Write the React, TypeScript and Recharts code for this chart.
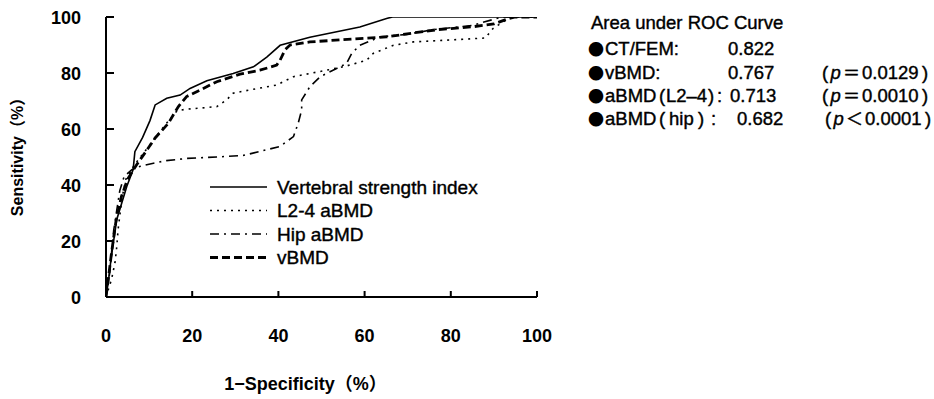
import React from "react";
import { LineChart, Line, XAxis, YAxis, Legend } from "recharts";

const FONT = "'Liberation Sans', Arial, 'Noto Sans CJK SC', sans-serif";
const CJK = "'Noto Sans CJK JP', 'Noto Sans CJK SC', sans-serif";
const TICKS = [0, 20, 40, 60, 80, 100];

// 1-specificity (%) / sensitivity (%)
const vsiX = [0, 0.5, 1.2, 2.5, 4.8, 6.3, 6.7, 8.5, 10.2, 11.4, 14.1, 17.2, 19.5, 23.4, 29.5, 34.2, 37.3, 40.4, 47.3, 58.9, 65.1, 66.5, 100];
const vsiY = [0, 5, 14, 27.7, 39.4, 45.5, 51.9, 57, 63, 68.6, 71, 72.1, 74.5, 77.2, 79.8, 82.2, 85.7, 89.9, 92.8, 96.4, 99.5, 100, 100];

const l24X = [0, 1.3, 2.1, 2.5, 2.8, 3.2, 3.8, 4.6, 6.5, 9, 11.5, 14, 16.5, 18.3, 25.7, 28, 29.5, 34.2, 39.6, 43.5, 51.2, 55.8, 60.5, 62, 66.7, 71.3, 80, 88, 89.8, 93.3, 94, 100];
const l24Y = [0, 6.4, 12.4, 18, 24, 29, 36, 42, 47, 52, 57, 62, 66.5, 67, 68, 70.4, 72.8, 74.2, 75.7, 78.7, 81, 82.5, 84.6, 87, 89.9, 91.1, 91.8, 92.5, 95.9, 99.4, 100, 100];

const hipX = [0, 0.8, 1.3, 1.8, 2.5, 3.2, 4.2, 6, 8, 11, 14, 18.8, 25.7, 32, 37.3, 40.4, 43.5, 44.6, 45.4, 45.4, 47.3, 49.7, 53.5, 55.8, 57, 58.9, 63.6, 69.8, 76, 85, 90, 92, 100];
const hipY = [0, 8, 16, 24, 31, 38, 43, 45.5, 46.7, 47.8, 48.7, 49.5, 50, 50.6, 52.6, 53.8, 57.3, 62.1, 66.8, 70.4, 75.1, 78.7, 81.6, 83.4, 87, 89.9, 92.9, 93.8, 95.5, 97, 99.2, 100, 100];

const vbmdX = [0, 0.5, 1.3, 2.3, 3.6, 5, 7, 9.5, 11.4, 14.5, 15.6, 16.8, 18.7, 21.8, 25.7, 31.1, 35.7, 39.6, 40.4, 41.5, 42.7, 47.3, 55, 65.1, 71.3, 77, 85, 90, 93.5, 95, 100];
const vbmdY = [0, 6, 16, 27, 36, 42, 47, 52.5, 56.8, 62.1, 65, 68, 71.6, 73.9, 76.9, 79.6, 81, 82.8, 84.6, 88.2, 90, 91.1, 91.9, 92.9, 94.3, 95.5, 96.5, 97.5, 99.5, 100, 100];

const zip = (xs: number[], ys: number[]) => xs.map((x, i) => ({ x, y: ys[i] }));

const SERIES = [
  { name: "Vertebral strength index", data: zip(vsiX, vsiY), width: 1.6, dash: undefined as string | undefined },
  { name: "L2-4 aBMD", data: zip(l24X, l24Y), width: 1.6, dash: "2 5" },
  { name: "Hip aBMD", data: zip(hipX, hipY), width: 1.6, dash: "9 5 2 5" },
  { name: "vBMD", data: zip(vbmdX, vbmdY), width: 2.8, dash: "8 4" },
];

const AUC_TITLE = "Area under ROC Curve";
const AUC_VALUES = ["0.822", "0.767", "0.713", "0.682"];
const AUC_SIGN = ["", "＝", "＝", "＜"];
const AUC_P = ["", "0.0129", "0.0010", "0.0001"];

const tickFont = { fill: "#000", fontSize: 18, fontWeight: 700, fontFamily: FONT } as const;

function YTick({ x, y, payload }: any) {
  return (
    <g>
      <line x1={x + 25} x2={x + 33} y1={y} y2={y} stroke="#000" strokeWidth={2} />
      <text x={x} y={y} dy={6.5} textAnchor="end" {...tickFont}>{payload.value}</text>
    </g>
  );
}

function XTick({ x, y, payload }: any) {
  return (
    <g>
      <line x1={x} x2={x} y1={y - 32} y2={y - 38} stroke="#000" strokeWidth={2} />
      <text x={x} y={y} dy={13} textAnchor="middle" {...tickFont}>{payload.value}</text>
    </g>
  );
}

function LegendBox() {
  return (
    <svg width={320} height={100} style={{ display: "block" }}>
      {SERIES.map((s, i) => (
        <g key={s.name} transform={`translate(0, ${12 + i * 23.5})`}>
          <line x1={5} x2={62} y1={0} y2={0} stroke="#000" strokeWidth={s.width} strokeDasharray={s.dash} />
          <text x={72} y={6.5} fontSize={19} fontWeight={400} fontFamily={FONT} fill="#000" stroke="#000" strokeWidth={0.4}>
            {s.name}
          </text>
        </g>
      ))}
    </svg>
  );
}

function Bullet() {
  return <tspan x={588} fontFamily={CJK} fontSize={16} strokeWidth={0}>●</tspan>;
}

function PTail({ i, x }: { i: number; x: number }) {
  return (
    <>
      <tspan x={x}>(</tspan>
      <tspan x={x + 8.5} fontStyle="italic">p</tspan>
      <tspan x={x + 21} fontFamily={CJK} fontSize={17}>{AUC_SIGN[i]}</tspan>
      <tspan x={x + 40}>{AUC_P[i]}</tspan>
      <tspan x={x + 100}>)</tspan>
    </>
  );
}

function AucPanel() {
  const rows = [29, 55, 79, 102, 125];
  const t = { fontSize: 18.5, fontFamily: FONT, fill: "#000", stroke: "#000", strokeWidth: 0.4 } as const;
  return (
    <svg width={934} height={399} style={{ position: "absolute", left: 0, top: 0, pointerEvents: "none" }}>
      <text x={591} y={rows[0]} {...t}>{AUC_TITLE}</text>

      <text y={rows[1]} {...t}>
        <Bullet />
        <tspan x={605}>CT/FEM:</tspan>
        <tspan x={728}>{AUC_VALUES[0]}</tspan>
      </text>

      <text y={rows[2]} {...t}>
        <Bullet />
        <tspan x={605}>vBMD:</tspan>
        <tspan x={728}>{AUC_VALUES[1]}</tspan>
        <PTail i={1} x={822} />
      </text>

      <text y={rows[3]} {...t}>
        <Bullet />
        <tspan x={605}>aBMD</tspan>
        <tspan x={659}>(</tspan>
        <tspan x={666}>L2–4</tspan>
        <tspan x={708}>)</tspan>
        <tspan x={717}>:</tspan>
        <tspan x={730}>{AUC_VALUES[2]}</tspan>
        <PTail i={2} x={822} />
      </text>

      <text y={rows[4]} {...t}>
        <Bullet />
        <tspan x={605}>aBMD</tspan>
        <tspan x={659}>(</tspan>
        <tspan x={669}>hip</tspan>
        <tspan x={698}>)</tspan>
        <tspan x={711}>:</tspan>
        <tspan x={737}>{AUC_VALUES[3]}</tspan>
        <PTail i={3} x={825} />
      </text>
    </svg>
  );
}

export default function App() {
  return (
    <div style={{ position: "absolute", left: 0, top: 0, width: 934, height: 399, background: "#fff" }}>
      <LineChart width={934} height={399} margin={{ top: 17, right: 397, bottom: 2, left: 6 }}>
        <XAxis
          type="number"
          dataKey="x"
          domain={[0, 100]}
          ticks={TICKS}
          allowDataOverflow
          height={100}
          stroke="#000"
          strokeWidth={2}
          tickLine={false}
          tickSize={0}
          tickMargin={32}
          tick={<XTick />}
          label={({ viewBox }: any) => (
            <text x={viewBox.x + viewBox.width / 2 - 16} y={viewBox.y + 93} textAnchor="middle" fontSize={18} fontWeight={700} fontFamily={FONT} fill="#000">
              1−Specificity（%）
            </text>
          )}
        />
        <YAxis
          type="number"
          dataKey="y"
          domain={[0, 100]}
          ticks={TICKS}
          allowDataOverflow
          width={100}
          stroke="#000"
          strokeWidth={2}
          tickLine={false}
          tickSize={0}
          tickMargin={25}
          tick={<YTick />}
          label={({ viewBox }: any) => (
            <text
              x={viewBox.x + 17}
              y={viewBox.y + viewBox.height / 2 - 4}
              transform={`rotate(-90, ${viewBox.x + 17}, ${viewBox.y + viewBox.height / 2 - 4})`}
              textAnchor="middle"
              fontSize={16}
              fontWeight={700}
              fontFamily={FONT}
              fill="#000"
            >
              Sensitivity（%）
            </text>
          )}
        />
        {SERIES.map((s) => (
          <Line
            key={s.name}
            data={s.data}
            dataKey="y"
            name={s.name}
            type="linear"
            stroke="#000"
            strokeWidth={s.width}
            strokeDasharray={s.dash}
            dot={false}
            activeDot={false}
            isAnimationActive={false}
          />
        ))}
        <Legend
          layout="horizontal"
          verticalAlign="middle"
          content={() => <LegendBox />}
          wrapperStyle={{ position: "absolute", left: 205, top: 175, width: 320, height: 100 }}
        />
      </LineChart>
      <AucPanel />
    </div>
  );
}
